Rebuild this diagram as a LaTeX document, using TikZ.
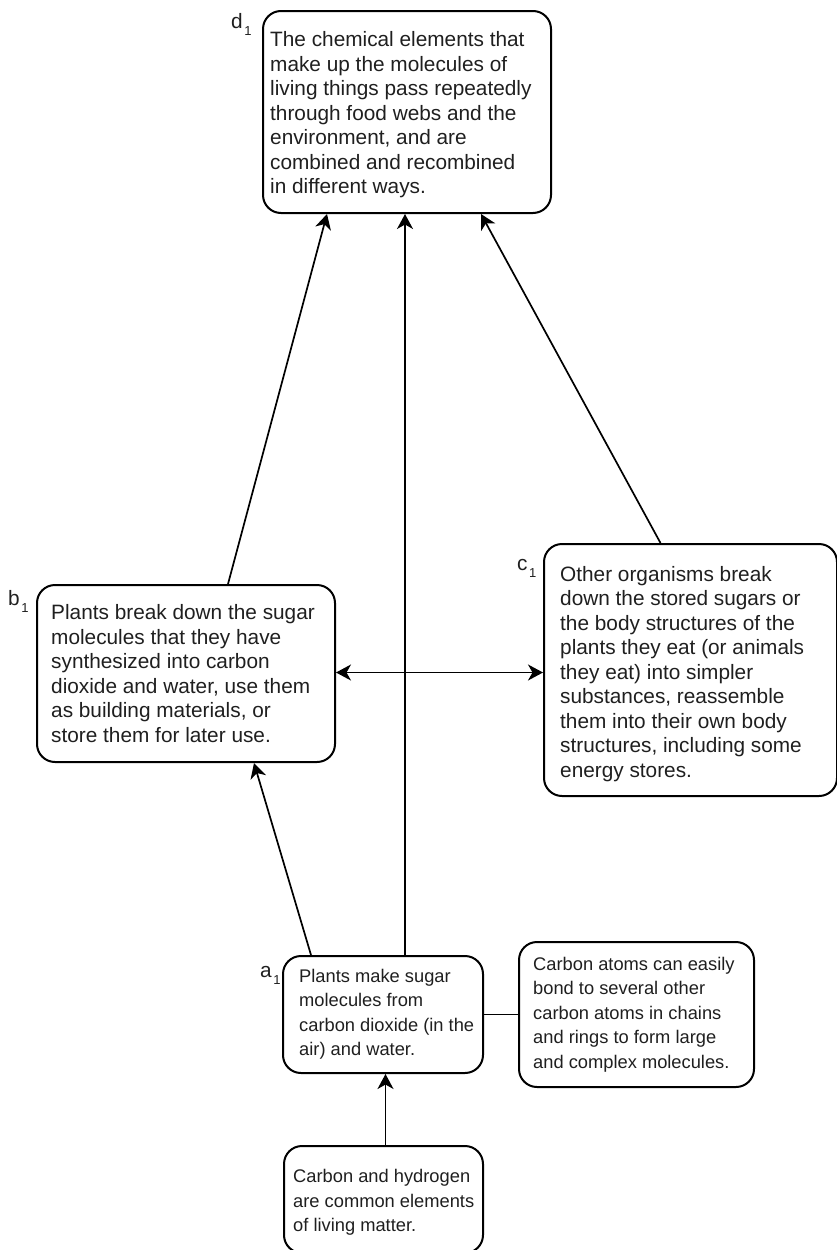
\documentclass[tikz,border=0pt]{standalone}
\usepackage{fontspec}
\setmainfont{Liberation Sans}
\usetikzlibrary{arrows.meta}
\newcommand\mysub[1]{\kern1.5pt\raisebox{-7pt}{\fontsize{13}{13}\selectfont #1}}
\begin{document}
\begin{tikzpicture}[x=1pt,y=-1pt,
  box/.style={draw, line width=2pt, rounded corners=18pt, anchor=north west, inner sep=0pt},
  txt/.style={align=left, inner sep=0pt, anchor=west, text=black!88, font=\fontsize{20.8}{24.5}\selectfont},
  smalltxt/.style={txt, font=\fontsize{18.3}{24.5}\selectfont},
  conn/.style={line width=1.7pt},
  arr/.style={conn, -{Stealth[length=15pt,width=16pt,inset=4.5pt]}},
  darr/.style={conn, {Stealth[length=15pt,width=16pt,inset=4.5pt]}-{Stealth[length=15pt,width=16pt,inset=4.5pt]}},
  lbl/.style={inner sep=0pt, anchor=base west, text=black!88, font=\fontsize{20.8}{24.5}\selectfont}
]
\useasboundingbox (0,0) rectangle (837,1250);

% boxes
\node[box, minimum width=288pt, minimum height=202pt] (d) at (262,10) {};
\node[box, minimum width=298pt, minimum height=177pt] (b) at (36,584) {};
\node[box, minimum width=293pt, minimum height=252pt] (c) at (543,543) {};
\node[box, minimum width=200pt, minimum height=117pt] (a) at (282,955) {};
\node[box, minimum width=235pt, minimum height=145pt] (e) at (518,941) {};
\node[box, minimum width=199pt, minimum height=107pt] (f) at (283,1145) {};

% texts
\node[txt] (dt) at ([xshift=8pt,yshift=-3pt]d.west) {The chemical elements that\\make up the molecules of\\living things pass repeatedly\\through food webs and the\\environment, and are\\combined and recombined\\in different ways.};
\node[txt] (bt) at ([xshift=15pt]b.west) {Plants break down the sugar\\molecules that they have\\synthesized into carbon\\dioxide and water, use them\\as building materials, or\\store them for later use.};
\node[txt] (ct) at ([xshift=17pt,yshift=-4pt]c.west) {Other organisms break\\down the stored sugars or\\the body structures of the\\plants they eat (or animals\\they eat) into simpler\\substances, reassemble\\them into their own body\\structures, including some\\energy stores.};
\node[smalltxt] (at) at ([xshift=17pt]a.west) {Plants make sugar\\molecules from\\carbon dioxide (in the\\air) and water.};
\node[smalltxt] (et) at ([xshift=15pt]e.west) {Carbon atoms can easily\\bond to several other\\carbon atoms in chains\\and rings to form large\\and complex molecules.};
\node[smalltxt] (ft) at ([xshift=10pt,yshift=-3pt]f.west) {Carbon and hydrogen\\are common elements\\of living matter.};

% labels
\node[lbl] (ld) at (231,28) {d\mysub{1}};
\node[lbl] (lb) at (8,605) {b\mysub{1}};
\node[lbl] (lc) at (517,570) {c\mysub{1}};
\node[lbl] (la) at (260,977) {a\mysub{1}};

% connectors
\draw[arr] ([xshift=42pt]b.north) -- ([xshift=-80pt]d.south);
\draw[arr] ([xshift=22pt]a.north) -- ([xshift=22pt]a.north |- d.south);
\draw[arr] ([xshift=-30pt]c.north) -- ([xshift=74pt]d.south);
\draw[arr] ([xshift=-72pt]a.north) -- ([xshift=68pt]b.south);
\draw[darr] ([yshift=1pt]b.east) -- ([yshift=1pt]b.east -| c.west);
\draw[conn] (a.east) -- (e.west);
\draw[arr] ([xshift=2pt]f.north) -- ([xshift=2pt]f.north |- a.south);
\end{tikzpicture}
\end{document}
